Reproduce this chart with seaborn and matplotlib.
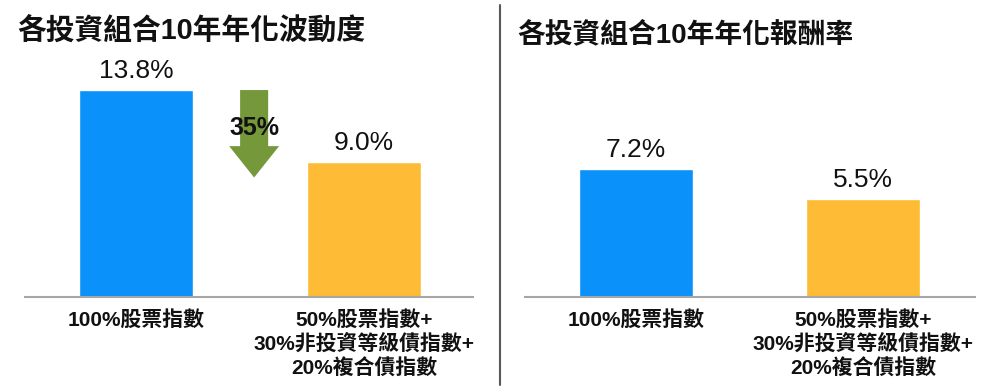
import numpy as np
import matplotlib
matplotlib.use('Agg')
import matplotlib.pyplot as plt
import seaborn as sns
from matplotlib.patches import FancyArrow
from matplotlib.lines import Line2D

# chart data
categories = ['100%股票指數', '50%股票指數+\n30%非投資等級債指數+\n20%複合債指數']
volatility = [13.8, 9.0]
returns = [7.2, 5.5]
titles = ['各投資組合10年年化波動度', '各投資組合10年年化報酬率']
bar_colors = ['#0A91FA', '#FDBB36']

sns.set_theme(style='white')
fonts = ['Liberation Sans', 'Noto Sans CJK TC', 'DejaVu Sans']
plt.rcParams['font.family'] = fonts


def draw_panel(ax, values, ytop, xlim):
    sns.barplot(x=categories, y=values, hue=categories, palette=bar_colors,
                width=0.5, legend=False, ax=ax, saturation=1)
    for c in ax.containers:
        ax.bar_label(c, fmt='%.1f%%', padding=5, fontsize=19, color='#111111')
    ax.set_ylim(0, ytop)
    ax.set_xlim(*xlim)
    ax.set_yticks([])
    ax.set_ylabel('')
    sns.despine(ax=ax, left=True)
    ax.spines['bottom'].set_color('#A6A6A6')
    ax.spines['bottom'].set_linewidth(1.5)
    ax.tick_params(axis='x', length=0, pad=9)
    for lbl in ax.get_xticklabels():
        lbl.set_fontsize(15)
        lbl.set_fontweight('bold')
        lbl.set_linespacing(1.28)
        lbl.set_color('#111111')


fig = plt.figure(figsize=(10, 3.91), dpi=100)
ax1 = fig.add_axes([0.025, 0.2404, 0.448, 0.606])
ax2 = fig.add_axes([0.525, 0.2404, 0.45, 0.606])

draw_panel(ax1, volatility, 15.8, (-0.487, 1.478))
draw_panel(ax2, returns, 13.28, (-0.489, 1.493))

# drop arrow between the two bars
drop = round((volatility[0] - volatility[1]) / volatility[0] * 100)
tip = volatility[1] - 1.03
arrow = FancyArrow(0.518, volatility[0], 0, tip - volatility[0], width=0.123,
                   head_width=0.219, head_length=2.09, length_includes_head=True,
                   color='#75983A', lw=0, zorder=3)
ax1.add_patch(arrow)
ax1.text(0.518, 11.28, f'{drop}%', ha='center', va='center', fontsize=18,
         fontweight='bold', color='#111111', zorder=4)

# titles
fig.text(0.017, 0.921, titles[0], ha='left', va='center', fontsize=20.7,
         fontweight='bold', color='#111111')
fig.text(0.517, 0.91, titles[1], ha='left', va='center', fontsize=20,
         fontweight='bold', color='#111111')

# divider
fig.add_artist(Line2D([0.5, 0.5], [0.015, 0.987], color='#595959', lw=1.5))

fig.savefig('out.png', dpi=100)
